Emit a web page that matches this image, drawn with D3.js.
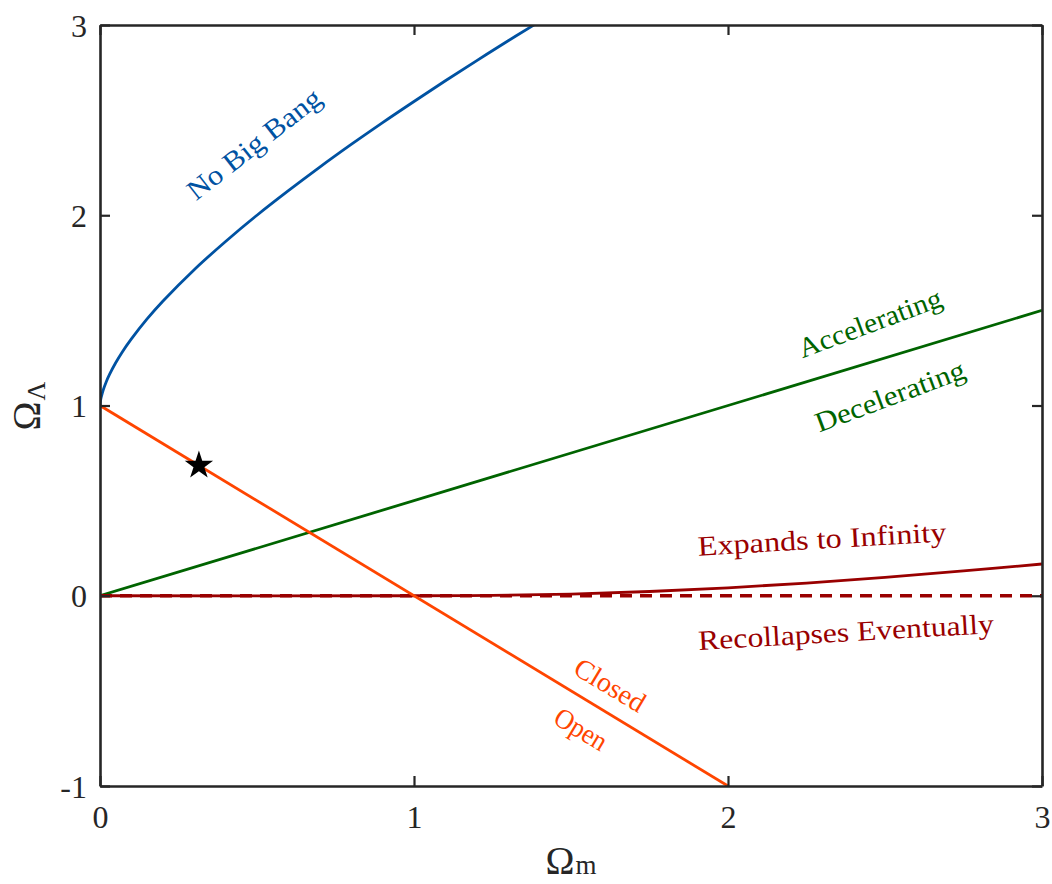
<!DOCTYPE html>
<html>
<head>
<meta charset="utf-8">
<script src="https://cdn.jsdelivr.net/npm/d3@7"></script>
<style>
  body { margin: 0; background: #fff; }
  text { font-family: "Liberation Serif", "DejaVu Serif", serif; }
</style>
</head>
<body>
<svg id="chart" width="1052" height="884"></svg>
<script>
// ---- data ----
const xTicks = [0, 1, 2, 3];
const yTicks = [-1, 0, 1, 2, 3];
const xTickLabels = ["0", "1", "2", "3"];
const yTickLabels = ["-1", "0", "1", "2", "3"];

// No Big Bang boundary
const noBigBangX = [0, 0.001, 0.002, 0.003, 0.005, 0.01, 0.02, 0.03, 0.05, 0.07, 0.1, 0.15, 0.2, 0.3, 0.4, 0.5, 0.6, 0.7, 0.8, 0.9, 1.0, 1.1, 1.2, 1.3, 1.38, 1.4];
const noBigBangY = [1, 1.018, 1.028, 1.037, 1.051, 1.080, 1.125, 1.162, 1.2245, 1.279, 1.350, 1.455, 1.548, 1.714, 1.862, 2.0, 2.129, 2.253, 2.372, 2.487, 2.598, 2.707, 2.813, 2.917, 2.998, 3.018];

// Accelerating / decelerating boundary
const accelX = [0, 3];
const accelY = [0, 1.5];

// Expands / recollapses boundary
const expandX = [0, 1.0, 1.25, 1.5, 1.75, 2.0, 2.25, 2.5, 2.75, 3.0];
const expandY = [0, 0, 0.0015, 0.0087, 0.0223, 0.0419, 0.0668, 0.0965, 0.1306, 0.167];

// Zero line (dashed)
const zeroX = [0, 3];
const zeroY = [0, 0];

// Flat universe line
const flatX = [0, 2];
const flatY = [1, -1];

// Current universe
const starX = [0.315];
const starY = [0.685];

// ---- layout ----
const svg = d3.select("#chart");
const m = { left: 100, top: 25, right: 1042, bottom: 786 };
const x = d3.scaleLinear().domain([0, 3]).range([m.left, m.right]);
const y = d3.scaleLinear().domain([-1, 3]).range([m.bottom, m.top]);

const axisColor = "#262626";
const cBlue = "#0052a2", cGreen = "#006400", cRed = "#990000", cOrange = "#ff4500";

svg.append("defs").append("clipPath").attr("id", "clip")
  .append("rect").attr("x", m.left).attr("y", m.top)
  .attr("width", m.right - m.left).attr("height", m.bottom - m.top);

const g = svg.append("g").attr("clip-path", "url(#clip)");
const line = d3.line().x(d => x(d[0])).y(d => y(d[1])).curve(d3.curveCatmullRom.alpha(0.5));
const zip = (a, b) => a.map((v, i) => [v, b[i]]);

function draw(xs, ys, color, dash, w) {
  g.append("path").datum(zip(xs, ys))
    .attr("d", line).attr("fill", "none").attr("stroke", color)
    .attr("stroke-width", w || 2.8)
    .attr("stroke-dasharray", dash || null);
}
draw(noBigBangX, noBigBangY, cBlue);
draw(accelX, accelY, cGreen);
draw(expandX, expandY, cRed);
draw(zeroX, zeroY, cRed, "12,8", 3.6);
draw(flatX, flatY, cOrange);

// star
svg.append("path")
  .attr("d", d3.symbol().type(d3.symbolStar).size(250)())
  .attr("transform", `translate(${x(starX[0])},${y(starY[0])})`)
  .attr("fill", "#000");

// ---- axes ----
const ax = svg.append("g");
const tl = 10;
const axB = d3.axisBottom(x).tickValues(xTicks).tickFormat((d, i) => xTickLabels[i]).tickSizeInner(-tl).tickSizeOuter(0).tickPadding(19);
const axT = d3.axisTop(x).tickValues(xTicks).tickFormat("").tickSizeInner(-tl).tickSizeOuter(0);
const axL = d3.axisLeft(y).tickValues(yTicks).tickFormat((d, i) => yTickLabels[i]).tickSizeInner(-tl).tickSizeOuter(0).tickPadding(13);
const axR = d3.axisRight(y).tickValues(yTicks).tickFormat("").tickSizeInner(-tl).tickSizeOuter(0);

function styleAxis(sel) {
  sel.select(".domain").attr("stroke", axisColor).attr("stroke-width", 2.6);
  sel.selectAll(".tick line").attr("stroke", axisColor).attr("stroke-width", 2.2);
  sel.selectAll(".tick text").attr("fill", axisColor).style("font-size", "32px")
    .style("font-family", "'Liberation Serif', serif");
}
ax.append("g").attr("class", "xb").attr("transform", `translate(0,${m.bottom})`).call(axB).call(styleAxis);
ax.append("g").attr("transform", `translate(0,${m.top})`).call(axT).call(styleAxis);
ax.append("g").attr("class", "yl").attr("transform", `translate(${m.left},0)`).call(axL).call(styleAxis);
ax.append("g").attr("transform", `translate(${m.right},0)`).call(axR).call(styleAxis);
ax.select(".xb").selectAll(".tick text").attr("dy", "0.72em");
ax.select(".yl").selectAll(".tick text").attr("dy", "0.35em");

// axis titles
const xt = svg.append("text").attr("x", 571).attr("y", 874).attr("text-anchor", "middle")
  .attr("fill", axisColor).style("font-size", "39px");
xt.append("tspan").text("Ω");
xt.append("tspan").text("m").style("font-size", "27px").attr("dx", 1);

const yt = svg.append("text").attr("transform", "translate(40,406) rotate(-90)").attr("text-anchor", "middle")
  .attr("fill", axisColor).style("font-size", "39px");
yt.append("tspan").text("Ω");
yt.append("tspan").text("Λ").style("font-size", "26px").attr("dx", 1).attr("dy", 5);

// region labels
function label(txt, cx, cy, ang, color, len) {
  svg.append("text").attr("transform", `translate(${cx},${cy}) rotate(${ang})`)
    .attr("text-anchor", "middle").attr("dominant-baseline", "central")
    .attr("textLength", len).attr("lengthAdjust", "spacingAndGlyphs")
    .attr("fill", color).style("font-size", "28px").text(txt);
}
label("No Big Bang", 254, 144, -38, cBlue, 162);
label("Accelerating", 870, 323, -20.5, cGreen, 151);
label("Decelerating", 890, 396, -20.5, cGreen, 158);
label("Expands to Infinity", 822, 539, -3.3, cRed, 249);
label("Recollapses Eventually", 846, 632, -3.3, cRed, 296);
label("Closed", 610, 685, 31, cOrange, 78);
label("Open", 581, 729, 31, cOrange, 57);
</script>
</body>
</html>
